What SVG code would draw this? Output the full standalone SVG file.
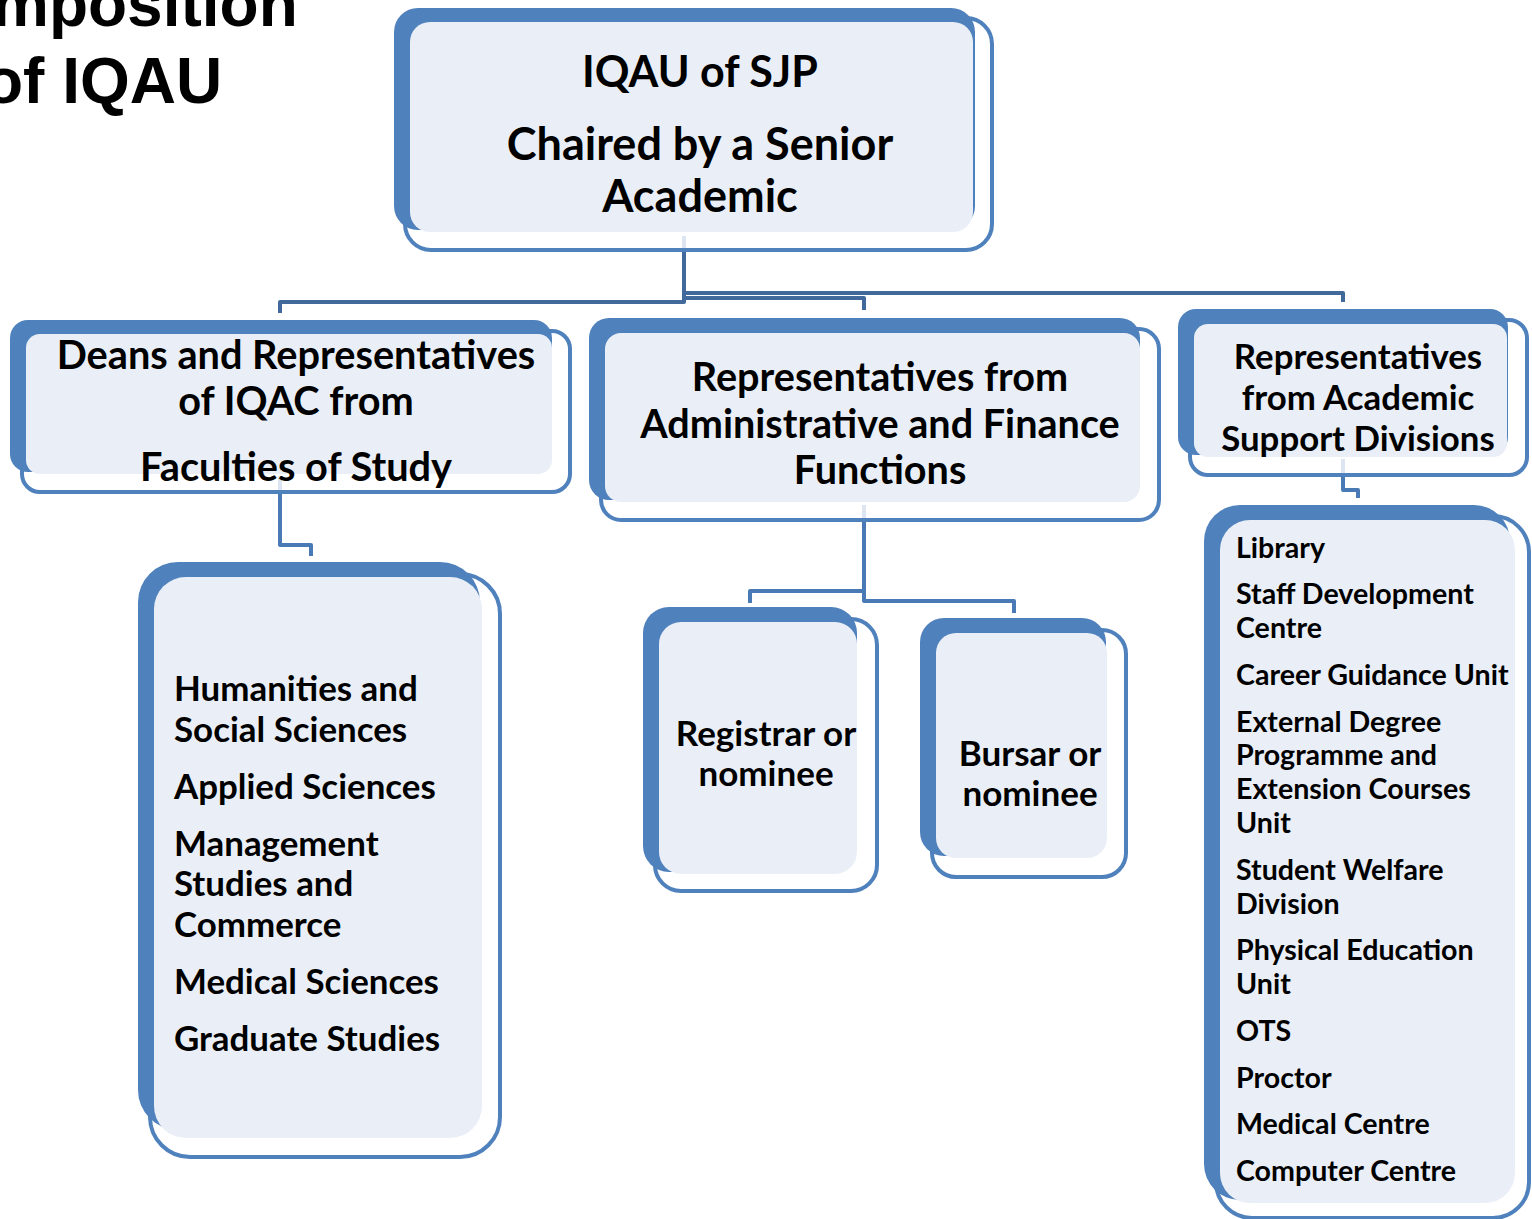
<svg xmlns="http://www.w3.org/2000/svg" width="1532" height="1219" viewBox="0 0 1532 1219">
  <style>
    .back { fill: #4F81BD; }
    .face { fill: #EAEFF7; }
    .rim { fill: none; stroke: #4F81BD; stroke-width: 4; }
    .conn { fill: none; stroke: #41699C; stroke-width: 4; stroke-linejoin: round; }
    .conn2 { fill: none; stroke: #4A7AB5; stroke-width: 4; stroke-linejoin: round; }
    .stub { fill: none; stroke: #DCE5F1; stroke-width: 4; }
    .t { font-family: Lato, "Open Sans", sans-serif; font-weight: bold; fill: #000; }
    .c { text-anchor: middle; }
    .title { font-family: "Liberation Sans", Arial, sans-serif; font-weight: bold; font-size: 64px; fill: #000; }
  </style>

  <!-- heading, partly beyond the left edge -->
  <g id="heading">
    <text class="title" x="-8" y="26">mposition</text>
    <text class="title" x="-16" y="103">of IQAU</text>
  </g>

  <!-- connectors -->
  <g id="connectors">
    <path class="stub" d="M684 236 V250"/>
    <path class="conn" d="M684 250 V302 H280 V313"/>
    <path class="conn" d="M684 298 H864 V310"/>
    <path class="conn" d="M684 293 H1343 V302"/>
    <path class="stub" d="M280 476 V492"/>
    <path class="conn2" d="M280 492 V545 H311 V556"/>
    <path class="stub" d="M864 505 V520"/>
    <path class="conn2" d="M864 520 V601 H1014 V613"/>
    <path class="conn2" d="M864 591 H750 V603"/>
    <path class="stub" d="M1343 459 V475"/>
    <path class="conn2" d="M1343 475 V490 H1358 V498"/>
  </g>

  <!-- top node -->
  <g id="node-iqau">
    <rect class="rim" x="405" y="18" width="587" height="232" rx="26"/>
    <rect class="back" x="394" y="8" width="581" height="222" rx="24"/>
    <rect class="face" x="410" y="22" width="563" height="210" rx="20"/>
    <text class="t c" x="700" y="87" font-size="43">IQAU of SJP</text>
    <text class="t c" x="700" y="160" font-size="45">Chaired by a Senior</text>
    <text class="t c" x="700" y="212" font-size="45">Academic</text>
  </g>

  <!-- deans node -->
  <g id="node-deans">
    <rect class="rim" x="22" y="331" width="548" height="161" rx="18"/>
    <rect class="back" x="10" y="320" width="542" height="152" rx="18"/>
    <rect class="face" x="26" y="334" width="526" height="140" rx="14"/>
    <text class="t c" x="296" y="369" font-size="39.7">Deans and Representatives</text>
    <text class="t c" x="296" y="415" font-size="39.7">of IQAC from</text>
    <text class="t c" x="296" y="481" font-size="39.7">Faculties of Study</text>
  </g>

  <!-- administrative node -->
  <g id="node-admin">
    <rect class="rim" x="601" y="329" width="558" height="191" rx="20"/>
    <rect class="back" x="589" y="318" width="551" height="182" rx="20"/>
    <rect class="face" x="605" y="333" width="535" height="169" rx="16"/>
    <text class="t c" x="880" y="391" font-size="39.6">Representatives from</text>
    <text class="t c" x="880" y="438" font-size="39.6">Administrative and Finance</text>
    <text class="t c" x="880" y="484" font-size="39.6">Functions</text>
  </g>

  <!-- academic support node -->
  <g id="node-support">
    <rect class="rim" x="1190" y="320" width="337" height="155" rx="18"/>
    <rect class="back" x="1178" y="309" width="330" height="146" rx="18"/>
    <rect class="face" x="1194" y="324" width="313" height="133" rx="14"/>
    <text class="t c" x="1358" y="369" font-size="34.8">Representatives</text>
    <text class="t c" x="1358" y="410" font-size="34.8">from Academic</text>
    <text class="t c" x="1358" y="451" font-size="34.8">Support Divisions</text>
  </g>

  <!-- faculties list node -->
  <g id="node-faculties">
    <rect class="rim" x="150" y="574" width="350" height="583" rx="40"/>
    <rect class="back" x="138" y="562" width="342" height="568" rx="40"/>
    <rect class="face" x="154" y="577" width="328" height="561" rx="32"/>
    <g class="t" font-size="34.9">
      <text x="174" y="701">Humanities and</text>
      <text x="174" y="742">Social Sciences</text>
      <text x="174" y="799">Applied Sciences</text>
      <text x="174" y="856">Management</text>
      <text x="174" y="896">Studies and</text>
      <text x="174" y="937">Commerce</text>
      <text x="174" y="994">Medical Sciences</text>
      <text x="174" y="1051">Graduate Studies</text>
    </g>
  </g>

  <!-- registrar node -->
  <g id="node-registrar">
    <rect class="rim" x="655" y="619" width="222" height="272" rx="26"/>
    <rect class="back" x="643" y="607" width="214" height="265" rx="26"/>
    <rect class="face" x="659" y="622" width="198" height="252" rx="22"/>
    <text class="t c" x="766" y="746" font-size="35">Registrar or</text>
    <text class="t c" x="766" y="786" font-size="35">nominee</text>
  </g>

  <!-- bursar node -->
  <g id="node-bursar">
    <rect class="rim" x="932" y="630" width="194" height="247" rx="24"/>
    <rect class="back" x="920" y="618" width="186" height="238" rx="24"/>
    <rect class="face" x="936" y="633" width="171" height="225" rx="20"/>
    <text class="t c" x="1030" y="766" font-size="35">Bursar or</text>
    <text class="t c" x="1030" y="806" font-size="35">nominee</text>
  </g>

  <!-- support divisions list node -->
  <g id="node-divisions">
    <rect class="rim" x="1216" y="516" width="313" height="702" rx="36"/>
    <rect class="back" x="1204" y="505" width="306" height="695" rx="36"/>
    <rect class="face" x="1220" y="520" width="295" height="683" rx="30"/>
    <g class="t" font-size="28.6">
      <text x="1236" y="558">Library</text>
      <text x="1236" y="604">Staff Development</text>
      <text x="1236" y="638">Centre</text>
      <text x="1236" y="685">Career Guidance Unit</text>
      <text x="1236" y="732">External Degree</text>
      <text x="1236" y="765">Programme and</text>
      <text x="1236" y="799">Extension Courses</text>
      <text x="1236" y="833">Unit</text>
      <text x="1236" y="880">Student Welfare</text>
      <text x="1236" y="914">Division</text>
      <text x="1236" y="960">Physical Education</text>
      <text x="1236" y="994">Unit</text>
      <text x="1236" y="1041">OTS</text>
      <text x="1236" y="1088">Proctor</text>
      <text x="1236" y="1134">Medical Centre</text>
      <text x="1236" y="1181">Computer Centre</text>
    </g>
  </g>
</svg>
